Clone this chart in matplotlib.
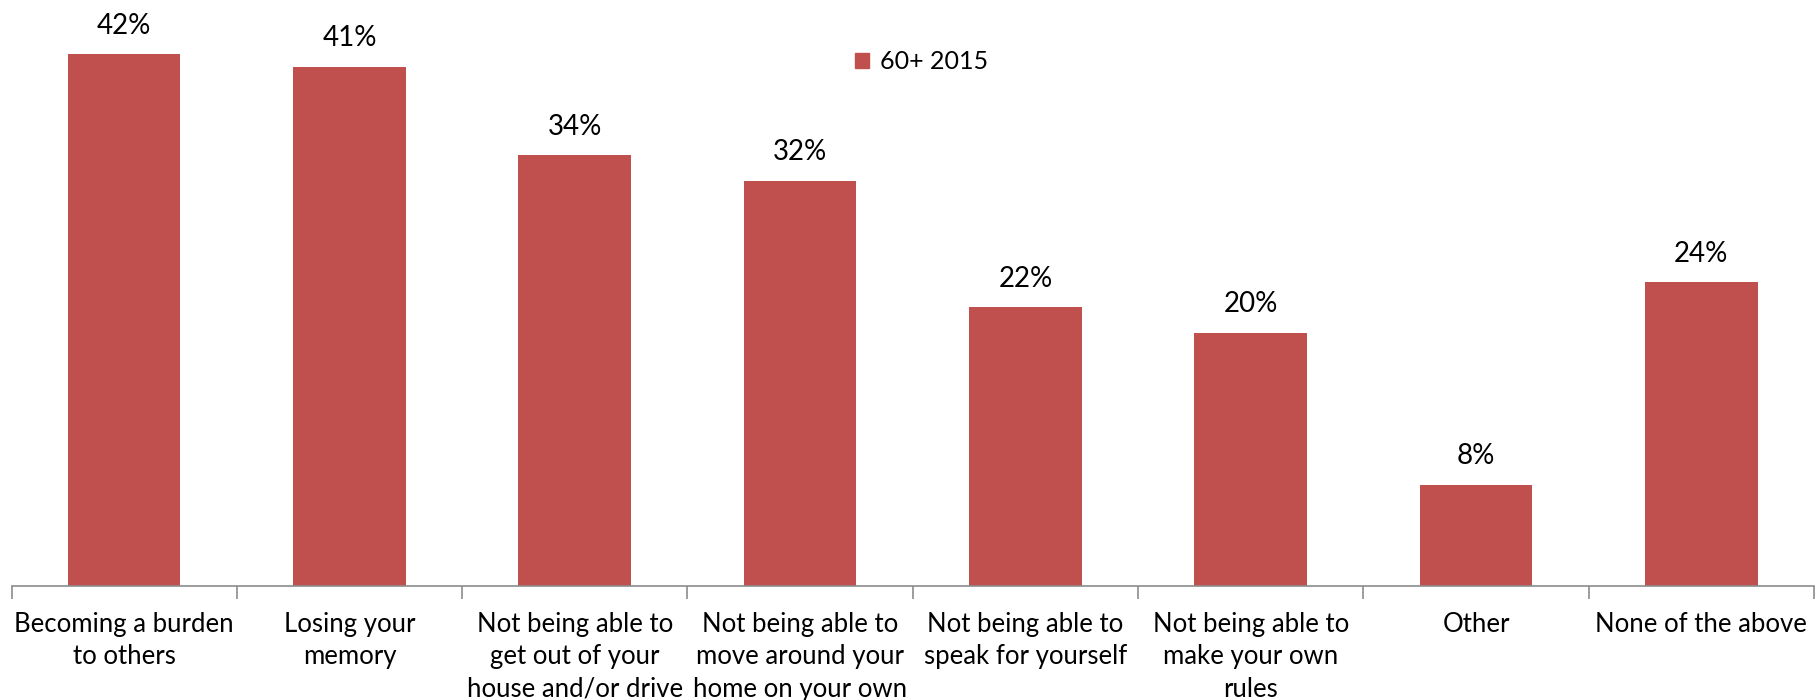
import matplotlib
matplotlib.use("Agg")
import matplotlib.pyplot as plt
import matplotlib.patches as mpatches

categories = [
    "Becoming a burden\nto others",
    "Losing your\nmemory",
    "Not being able to\nget out of your\nhouse and/or drive",
    "Not being able to\nmove around your\nhome on your own",
    "Not being able to\nspeak for yourself",
    "Not being able to\nmake your own\nrules",
    "Other",
    "None of the above",
]
values = [42, 41, 34, 32, 22, 20, 8, 24]
series_name = "60+ 2015"

BAR = "#C0504D"
AXC = "#8C8C8C"
plt.rcParams['font.family'] = ['Lato', 'DejaVu Sans']

fig = plt.figure(figsize=(18.19, 7.0), dpi=100)
ax = fig.add_axes([11.5 / 1819, 114 / 700, (1814 - 11.5) / 1819, 586 / 700])
x = list(range(len(values)))
ax.bar(x, values, width=0.5, color=BAR, zorder=2)
ax.set_xlim(-0.5, len(values) - 0.5)
ax.set_ylim(0, 586 / 12.67)

for xi, v in zip(x, values):
    ax.annotate(f"{v}%", (xi, v), xytext=(0, 11), textcoords="offset points",
                ha="center", va="bottom", fontsize=20, color="black")

for s in ["top", "right", "left"]:
    ax.spines[s].set_visible(False)
ax.spines["bottom"].set_color(AXC)
ax.spines["bottom"].set_linewidth(1.2)
ax.set_yticks([])
ax.set_xticks([i - 0.5 for i in range(len(values) + 1)], minor=False)
ax.set_xticklabels([])
ax.tick_params(axis="x", which="major", length=9, color=AXC, width=1.2, direction="out")
ax.set_xticks(x, minor=True)
ax.set_xticklabels(categories, minor=True, fontsize=18.5, linespacing=1.38, va="top")
ax.tick_params(axis="x", which="minor", length=0, pad=18.5)

handle = mpatches.Patch(color=BAR, label=series_name)
ax.legend(handles=[handle], loc="upper left", bbox_to_anchor=(853 / 1819 - 11.5 / 1819, 1 - 40 / 586),
          bbox_transform=ax.transAxes, frameon=False, fontsize=18, handlelength=0.55,
          handleheight=0.55, handletextpad=0.45, borderaxespad=0)

fig.savefig("out.png", dpi=100)
